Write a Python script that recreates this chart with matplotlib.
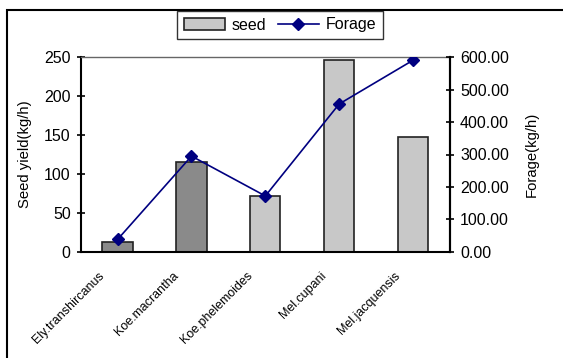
import matplotlib
matplotlib.use("Agg")
import matplotlib.pyplot as plt
from matplotlib.patches import Rectangle
from matplotlib.ticker import FormatStrFormatter
from matplotlib.transforms import ScaledTranslation

plt.rcParams["font.family"] = ["Liberation Sans", "DejaVu Sans"]

species = ["Ely.transhircanus", "Koe.macrantha", "Koe.phelemoides",
           "Mel.cupani", "Mel.jacquensis"]
seed = [13, 115, 72, 246, 147]
forage = [38, 295, 172, 456, 591]
bar_colors = ["#8a8a8a", "#8a8a8a", "#c8c8c8", "#c8c8c8", "#c8c8c8"]

W, H = 563, 358
fig = plt.figure(figsize=(W / 100, H / 100), dpi=100)
left, right, top, bottom = 80.7, 450, 57.3, 251.7
ax = fig.add_axes([left / W, 1 - bottom / H, (right - left) / W, (bottom - top) / H])
x = list(range(len(species)))

bars = ax.bar(x, seed, width=0.41, color=bar_colors, edgecolor="#222222",
              linewidth=1.2, label="seed", zorder=2)
ax.set_xlim(-0.5, len(species) - 0.5)
ax.set_ylim(0, 250)
ax.set_yticks(range(0, 251, 50))
ax.set_ylabel("Seed yield(kg/h)", fontsize=10.7)
ax.yaxis.set_label_coords((32 - left) / (right - left), 0.5)
ax.set_xticks(x)
ax.set_xticklabels(species, rotation=45, ha="right", va="top",
                   rotation_mode="anchor", fontsize=9)
ax.tick_params(axis="x", length=0, pad=13)
shift = ScaledTranslation(-19 / 100, 0, fig.dpi_scale_trans)
for lab in ax.get_xticklabels():
    lab.set_transform(lab.get_transform() + shift)
ax.tick_params(axis="y", direction="inout", length=5.5, width=1.2,
               labelsize=11.5, pad=4.5)
for side in ("left", "bottom", "right"):
    ax.spines[side].set_linewidth(1.5)
ax.spines["top"].set_color("#666666")
ax.spines["top"].set_linewidth(1.0)

ax2 = ax.twinx()
line, = ax2.plot(x, forage, color="#000080", marker="D", markersize=6,
                 linewidth=1.2, label="Forage", zorder=3)
ax2.set_ylim(0, 600)
ax2.set_yticks(range(0, 601, 100))
ax2.yaxis.set_major_formatter(FormatStrFormatter("%.2f"))
ax2.tick_params(axis="y", direction="inout", length=5.5, width=1.2,
                labelsize=11.5, pad=4.5)
ax2.set_ylabel("Forage(kg/h)", fontsize=10.7)
ax2.yaxis.set_label_coords((525 - left) / (right - left), 0.5)
for side in ("top", "left", "bottom"):
    ax2.spines[side].set_visible(False)
ax2.spines["right"].set_linewidth(1.5)

leg = fig.legend([bars, line], ["seed", "Forage"], loc="center",
                 bbox_to_anchor=(280 / W, 1 - 25 / H), ncol=2, fontsize=11.5,
                 frameon=True, fancybox=False, edgecolor="black",
                 handlelength=2.6, handletextpad=0.4, columnspacing=0.7,
                 borderpad=0.4, borderaxespad=0)
leg.get_frame().set_linewidth(1.0)
leg.legend_handles[0].set_facecolor("#c8c8c8")

# outer chart frame, open at the right and bottom edges
fig.patches.append(Rectangle((7 / W, -0.01), 1.0, 1 - 10 / H + 0.01,
                             transform=fig.transFigure, fill=False,
                             edgecolor="black", linewidth=1.5, zorder=-1))

fig.savefig("out.png", dpi=100)
